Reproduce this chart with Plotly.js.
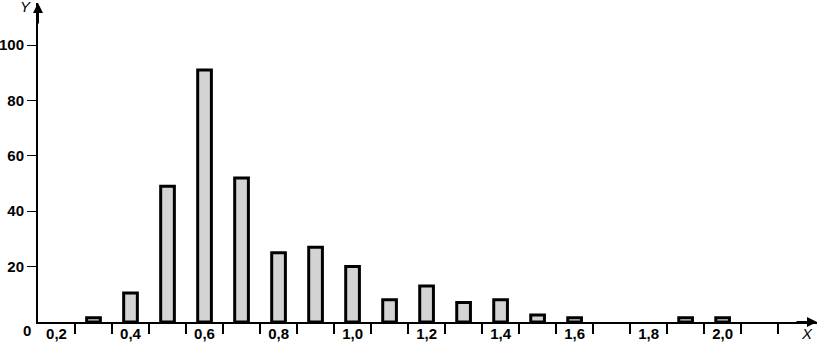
<!DOCTYPE html>
<html>
<head>
<meta charset="utf-8">
<script src="https://cdn.plot.ly/plotly-3.0.1.min.js"></script>
<style>html,body{margin:0;padding:0;background:#fff;}#chart{width:821px;height:342px;}</style>
</head>
<body>
<div id="chart"></div>
<script>
// Data
const xValues = [0.3, 0.4, 0.5, 0.6, 0.7, 0.8, 0.9, 1.0, 1.1, 1.2, 1.3, 1.4, 1.5, 1.6, 1.7, 1.8, 1.9, 2.0];
const yValues = [1.5, 10.5, 49, 91, 52, 25, 27, 20, 8, 13, 7, 8, 2.5, 1.5, 0, 0, 1.5, 1.5];
const labelVals = [0.2, 0.4, 0.6, 0.8, 1.0, 1.2, 1.4, 1.6, 1.8, 2.0];
const labelText = ['0,2', '0,4', '0,6', '0,8', '1,0', '1,2', '1,4', '1,6', '1,8', '2,0'];
const minorTickVals = [0.25, 0.35, 0.45, 0.55, 0.65, 0.75, 0.85, 0.95, 1.05, 1.15, 1.25, 1.35, 1.45, 1.55, 1.65, 1.75, 1.85, 1.95, 2.05, 2.15];
const yTickVals = [20, 40, 60, 80, 100];
const yTickText = ['20', '40', '60', '80', '100'];

const font = {family: 'Liberation Sans, Arial, sans-serif', size: 15, color: '#000', weight: 'bold'};
const axisNameFont = {family: 'Liberation Sans, Arial, sans-serif', size: 15, color: '#000', weight: 'normal', style: 'italic'};

const trace = {
  type: 'bar',
  x: xValues,
  y: yValues,
  width: 0.037,
  marker: {color: '#d3d3d3', line: {color: '#000', width: yValues.map(v => v > 0 ? 3 : 0)}},
  hoverinfo: 'skip'
};

const layout = {
  width: 821, height: 342,
  margin: {l: 38, r: 4, t: 3, b: 20},
  paper_bgcolor: '#fff', plot_bgcolor: '#fff',
  font: font,
  showlegend: false,
  bargap: 0,
  xaxis: {
    range: [0.15, 2.255],
    showgrid: false, zeroline: false,
    showline: true, linecolor: '#000', linewidth: 2,
    tickvals: labelVals, ticktext: labelText,
    ticks: '', ticklen: 0,
    ticklabelstandoff: -3,
    tickfont: font,
    minor: {tickvals: minorTickVals, ticks: 'outside', ticklen: 10, tickwidth: 1.5, tickcolor: '#000', showgrid: false},
    fixedrange: true
  },
  yaxis: {
    range: [0, 115.2],
    showgrid: false, zeroline: false,
    showline: true, linecolor: '#000', linewidth: 2,
    tickvals: yTickVals, ticktext: yTickText,
    ticks: 'outside', ticklen: 9, tickwidth: 1, tickcolor: '#000',
    tickfont: font,
    fixedrange: true
  },
  annotations: [
    {xref: 'paper', yref: 'paper', x: 0, y: 1, ax: 0, ay: 22, axref: 'pixel', ayref: 'pixel',
     showarrow: true, arrowhead: 2, arrowsize: 1, arrowwidth: 2, arrowcolor: '#000', text: '', standoff: 0},
    {xref: 'paper', yref: 'paper', x: 1, y: 0, ax: -22, ay: 0, axref: 'pixel', ayref: 'pixel',
     showarrow: true, arrowhead: 2, arrowsize: 1, arrowwidth: 2, arrowcolor: '#000', text: '', standoff: 0},
    {xref: 'paper', yref: 'paper', x: 0, y: 1, xanchor: 'right', yanchor: 'middle', xshift: -5, yshift: -3,
     showarrow: false, text: 'Y', font: axisNameFont},
    {xref: 'paper', yref: 'paper', x: 1, y: 0, xanchor: 'right', yanchor: 'top', xshift: -2, yshift: -1,
     showarrow: false, text: 'X', font: axisNameFont},
    {xref: 'paper', yref: 'paper', x: 0, y: 0, xanchor: 'right', yanchor: 'top', xshift: -5, yshift: 2,
     showarrow: false, text: '0', font: font}
  ]
};

Plotly.newPlot('chart', [trace], layout, {staticPlot: true, displayModeBar: false});
</script>
</body>
</html>
